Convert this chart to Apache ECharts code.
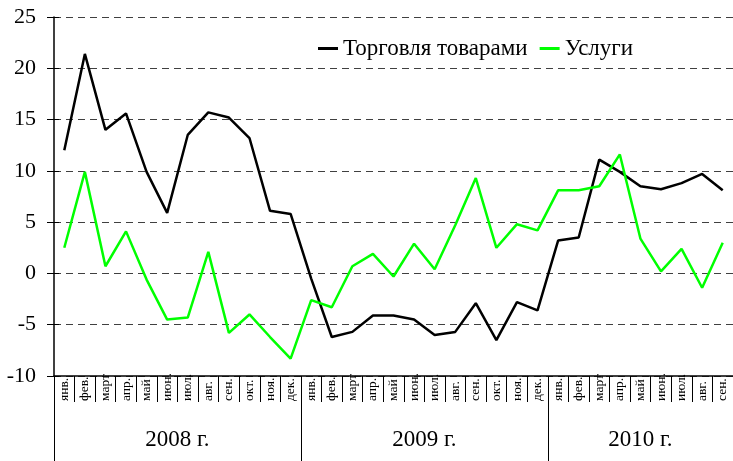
<!DOCTYPE html>
<html>
<head>
<meta charset="utf-8">
<script src="https://cdn.jsdelivr.net/npm/echarts@6/dist/echarts.min.js"></script>
<style>
  html, body { margin: 0; padding: 0; background: #fff; }
  #chart { width: 733px; height: 461px; }
</style>
</head>
<body>
<div id="chart"></div>
<script>
// подписи месяцев (янв. 2008 – сен. 2010)
const months = [
  'янв.', 'фев.', 'март', 'апр.', 'май', 'июн.', 'июл.', 'авг.', 'сен.', 'окт.', 'ноя.', 'дек.',
  'янв.', 'фев.', 'март', 'апр.', 'май', 'июн.', 'июл.', 'авг.', 'сен.', 'окт.', 'ноя.', 'дек.',
  'янв.', 'фев.', 'март', 'апр.', 'май', 'июн.', 'июл.', 'авг.', 'сен.'
]
const years = ['2008 г.', '2009 г.', '2010 г.']

const trade = [
  12.0, 21.4, 14.0, 15.6, 9.9, 5.9, 13.5, 15.7, 15.2, 13.2, 6.1, 5.8,
  -0.5, -6.2, -5.7, -4.1, -4.1, -4.5, -6.0, -5.7, -2.9, -6.5, -2.8, -3.6,
  3.2, 3.5, 11.1, 9.9, 8.5, 8.2, 8.8, 9.7, 8.1
]
const services = [
  2.5, 9.9, 0.7, 4.1, -0.6, -4.5, -4.3, 2.1, -5.8, -4.0, -6.2, -8.3,
  -2.6, -3.3, 0.7, 1.9, -0.3, 2.9, 0.4, 4.7, 9.3, 2.5, 4.8, 4.2,
  8.1, 8.1, 8.5, 11.6, 3.4, 0.2, 2.4, -1.4, 3.0
]

const serif = 'Liberation Serif'

// границы годов по месяцам «янв.»
const yearStarts = []
months.forEach((m, i) => { if (m === 'янв.') yearStarts.push(i) })
const yearBounds = yearStarts.concat([months.length])
const yearCenters = yearStarts.map((s, i) => (s + yearBounds[i + 1]) / 2)

const chart = echarts.init(document.getElementById('chart'))
chart.setOption({
  animation: false,
  textStyle: { fontFamily: serif },
  grid: { left: 54, top: 17, width: 685, height: 359 },
  legend: {
    left: 313,
    top: 32,
    itemWidth: 20,
    itemHeight: 3,
    itemGap: 12,
    icon: 'rect',
    textStyle: { fontFamily: serif, fontSize: 23, color: '#000' },
    data: ['Торговля товарами', 'Услуги']
  },
  xAxis: [
    {
      type: 'category',
      data: months,
      boundaryGap: true,
      axisLine: { onZero: false, lineStyle: { color: '#000', width: 1.5 } },
      axisTick: { show: true, interval: 0, length: 26, lineStyle: { color: '#000', width: 1 } },
      axisLabel: {
        interval: 0,
        rotate: 90,
        align: 'left',
        margin: 25,
        fontFamily: serif,
        fontSize: 13.5,
        color: '#000'
      }
    },
    {
      type: 'value',
      position: 'bottom',
      min: 0,
      max: months.length,
      axisLine: { show: false, onZero: false },
      splitLine: { show: false },
      axisTick: {
        show: true,
        customValues: yearBounds,
        length: 85,
        lineStyle: { color: '#000' }
      },
      axisLabel: {
        customValues: yearCenters,
        margin: 52,
        fontFamily: serif,
        fontSize: 23,
        color: '#000',
        formatter: v => years[yearCenters.indexOf(v)] || ''
      }
    }
  ],
  yAxis: [
    {
      type: 'value',
      min: -10,
      max: 25,
      interval: 5,
      axisLine: { show: true, lineStyle: { color: '#000', width: 1.5 } },
      axisTick: { show: true, length: 7, lineStyle: { color: '#000' } },
      axisLabel: { margin: 18, fontFamily: serif, fontSize: 22, color: '#000' },
      splitLine: { lineStyle: { color: '#404040', type: [7, 5], width: 1 } }
    },
    {
      type: 'value',
      position: 'left',
      min: -10,
      max: 25,
      interval: 5,
      axisLine: { show: false },
      axisTick: { show: true, inside: true, length: 5, lineStyle: { color: '#000' } },
      axisLabel: { show: false },
      splitLine: { show: false }
    }
  ],
  series: [
    {
      name: 'Торговля товарами',
      type: 'line',
      data: trade,
      symbol: 'none',
      itemStyle: { color: '#000' },
      lineStyle: { color: '#000', width: 2.5 }
    },
    {
      name: 'Услуги',
      type: 'line',
      data: services,
      symbol: 'none',
      itemStyle: { color: '#00ff00' },
      lineStyle: { color: '#00ff00', width: 2.5 }
    }
  ]
})
</script>
</body>
</html>
